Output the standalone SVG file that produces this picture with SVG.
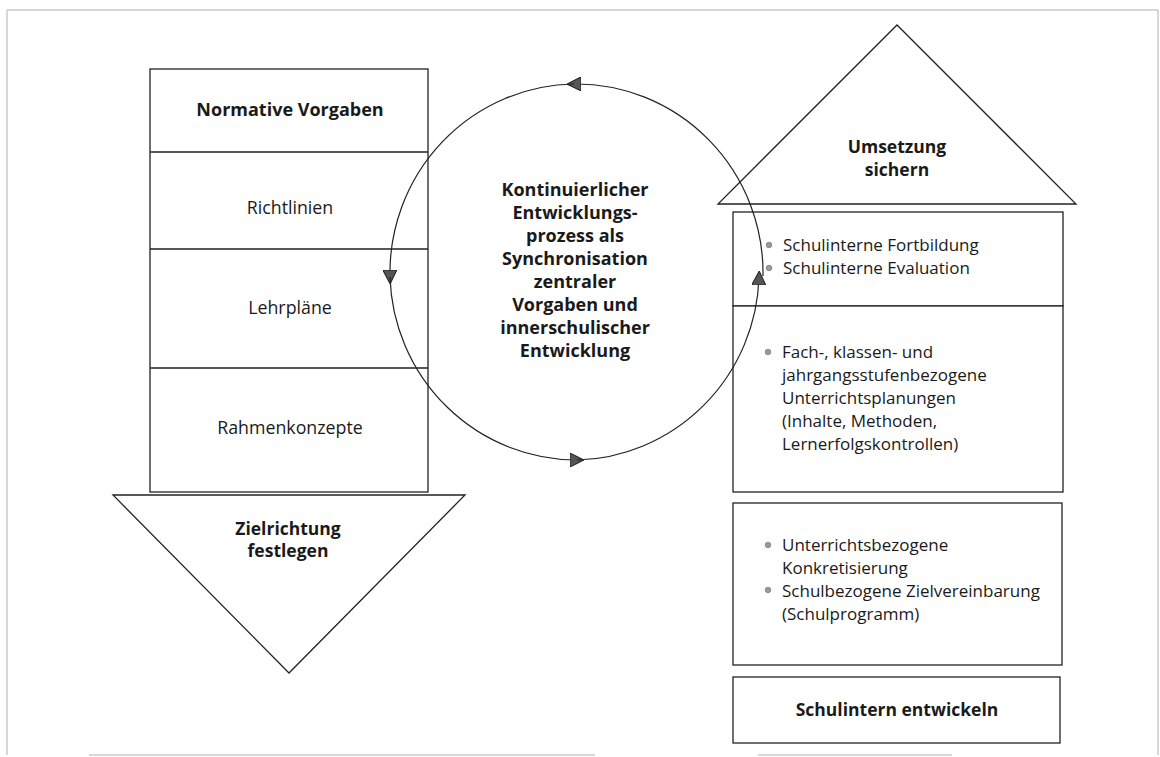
<svg xmlns="http://www.w3.org/2000/svg" width="1160" height="757" viewBox="0 0 1160 757">
<style>
.bg{fill:#fff}
.frame{stroke:#b0b0b0;stroke-width:1;fill:none}
.shape{fill:#fff;stroke:#222;stroke-width:1.3}
.line{stroke:#222;stroke-width:1.3;fill:none}
.conn{stroke:#222;stroke-width:1.2;fill:none}
.b{font-family:"Open Sans","Liberation Sans",sans-serif;font-weight:bold;font-size:17.5px;fill:#1a1a1a;text-anchor:middle}
.r{font-family:"Open Sans","Liberation Sans",sans-serif;font-size:17px;fill:#1a1a1a}
.rl{font-size:17.8px;text-anchor:middle}
.dot{fill:#9a9a9a;stroke:#666;stroke-width:0.6}
</style>
<defs>
<marker id="arr" viewBox="0 0 14 14" refX="7" refY="7" markerWidth="14" markerHeight="14" markerUnits="userSpaceOnUse" orient="auto">
<path d="M0,0 L14,7 L0,14 Z" fill="#555" stroke="#222" stroke-width="1"/>
</marker>
</defs>
<rect class="bg" x="0" y="0" width="1160" height="757"/>
<g id="frame">
<path class="frame" d="M7,755 L7,10 L1158,10 L1158,755"/>
<path class="frame" d="M89,755 L595,755 M758,755 L952,755"/>
</g>
<g id="left-column">
<rect class="shape" x="150" y="69" width="278" height="423"/>
<path class="line" d="M150,152 L428,152 M150,249 L428,249 M150,368 L428,368"/>
<text class="b" x="290" y="116" style="font-size:18px">Normative Vorgaben</text>
<text class="r rl" x="290" y="214">Richtlinien</text>
<text class="r rl" x="290" y="314">Lehrpläne</text>
<text class="r rl" x="290" y="434">Rahmenkonzepte</text>
</g>
<g id="zielrichtung">
<polygon class="shape" points="113,495 465,495 289,673"/>
<text class="b" x="288" y="535">Zielrichtung</text>
<text class="b" x="288" y="557">festlegen</text>
</g>
<g id="umsetzung">
<polygon class="shape" points="718,204 1076,204 897,25"/>
<text class="b" x="897" y="153">Umsetzung</text>
<text class="b" x="897" y="176">sichern</text>
</g>
<g id="box-fortbildung">
<rect class="shape" x="733" y="212" width="330" height="94"/>
<circle class="dot" cx="769" cy="245" r="2.8"/>
<circle class="dot" cx="769" cy="268" r="2.8"/>
<text class="r" x="783" y="251">Schulinterne Fortbildung</text>
<text class="r" x="783" y="274">Schulinterne Evaluation</text>
</g>
<g id="box-unterrichtsplanung">
<rect class="shape" x="733" y="306" width="330" height="186"/>
<circle class="dot" cx="768" cy="352" r="2.8"/>
<text class="r" x="782" y="358">Fach-, klassen- und</text>
<text class="r" x="782" y="381">jahrgangsstufenbezogene</text>
<text class="r" x="782" y="404">Unterrichtsplanungen</text>
<text class="r" x="782" y="427">(Inhalte, Methoden,</text>
<text class="r" x="782" y="450">Lernerfolgskontrollen)</text>
</g>
<g id="box-konkretisierung">
<rect class="shape" x="733" y="503" width="329" height="162"/>
<circle class="dot" cx="768" cy="545" r="2.8"/>
<circle class="dot" cx="768" cy="590" r="2.8"/>
<text class="r" x="782" y="551">Unterrichtsbezogene</text>
<text class="r" x="782" y="574">Konkretisierung</text>
<text class="r" x="782" y="597">Schulbezogene Zielvereinbarung</text>
<text class="r" x="782" y="620">(Schulprogramm)</text>
</g>
<g id="box-schulintern">
<rect class="shape" x="733" y="677" width="327" height="66"/>
<text class="b" x="897" y="716">Schulintern entwickeln</text>
</g>
<g id="connectors">
<path class="conn" d="M763,276 A187,189 0 0 0 574,84" marker-end="url(#arr)"/>
<path class="conn" d="M574,84 A187,189 0 0 0 390,277" marker-end="url(#arr)"/>
<path class="conn" d="M390,277 A187,189 0 0 0 577,460" marker-end="url(#arr)"/>
<path class="conn" d="M577,460 A187,189 0 0 0 759,278" marker-end="url(#arr)"/>
</g>
<g id="process">
<text class="b" x="575" y="196" style="font-size:18px">Kontinuierlicher</text>
<text class="b" x="575" y="219" style="font-size:18px">Entwicklungs-</text>
<text class="b" x="575" y="242" style="font-size:18px">prozess als</text>
<text class="b" x="575" y="265" style="font-size:18px">Synchronisation</text>
<text class="b" x="575" y="288" style="font-size:18px">zentraler</text>
<text class="b" x="575" y="311" style="font-size:18px">Vorgaben und</text>
<text class="b" x="575" y="334" style="font-size:18px">innerschulischer</text>
<text class="b" x="575" y="357" style="font-size:18px">Entwicklung</text>
</g>
</svg>
